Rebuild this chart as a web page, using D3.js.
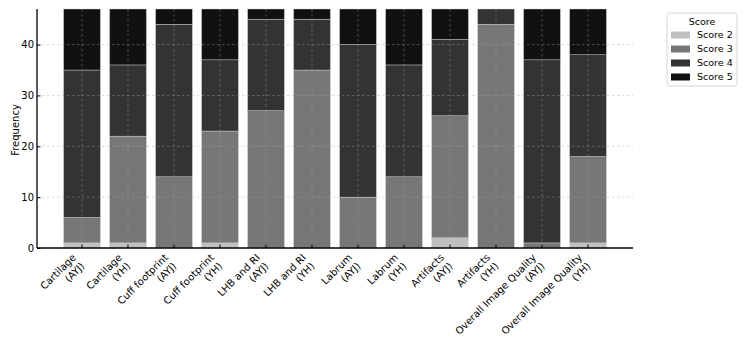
<!DOCTYPE html>
<html>
<head>
<meta charset="utf-8">
<script src="https://cdn.jsdelivr.net/npm/d3@7"></script>
<style>
  body { margin: 0; background: #fff; }
  text { font-family: "DejaVu Sans", sans-serif; }
</style>
</head>
<body>
<script>
// categories (two-line labels) and score counts per bar
const categories = [
  "Cartilage\n(AYJ)", "Cartilage\n(YH)",
  "Cuff footprint\n(AYJ)", "Cuff footprint\n(YH)",
  "LHB and RI\n(AYJ)", "LHB and RI\n(YH)",
  "Labrum\n(AYJ)", "Labrum\n(YH)",
  "Artifacts\n(AYJ)", "Artifacts\n(YH)",
  "Overall Image Quality\n(AYJ)", "Overall Image Quality\n(YH)"
]
const score2 = [1, 1, 0, 1, 0, 0, 0, 0, 2, 0, 0, 1]
const score3 = [5, 21, 14, 22, 27, 35, 10, 14, 24, 44, 1, 17]
const score4 = [29, 14, 30, 14, 18, 10, 30, 22, 15, 3, 36, 20]
const score5 = [12, 11, 3, 10, 2, 2, 7, 11, 6, 0, 10, 9]
const seriesNames = ["Score 2", "Score 3", "Score 4", "Score 5"]
const yTicks = [0, 10, 20, 30, 40]

const colors = ["#c0c0c0", "#777777", "#333333", "#111111"]

// table for d3.stack
const rows = categories.map((c, i) => ({
  cat: c,
  "Score 2": score2[i],
  "Score 3": score3[i],
  "Score 4": score4[i],
  "Score 5": score5[i]
}))

const W = 750, H = 351
const mLeft = 37, mRight = 633, mTop = 9, mBottom = 248

const svg = d3.select("body")
  .append("svg")
  .attr("width", W)
  .attr("height", H)

const x = d3.scaleBand()
  .domain(categories)
  .range([mLeft, mRight])
  .paddingInner(0.2)
  .paddingOuter(0.578)

const y = d3.scaleLinear()
  .domain([0, 47])
  .range([mBottom, mTop])

const stack = d3.stack().keys(seriesNames)
const layers = stack(rows)

// bars
svg.append("g")
  .selectAll("g")
  .data(layers)
  .enter()
  .append("g")
    .attr("fill", (d, i) => colors[i])
  .selectAll("rect")
  .data(d => d)
  .enter()
  .append("rect")
    .attr("x", d => x(d.data.cat))
    .attr("width", x.bandwidth())
    .attr("y", d => y(d[1]))
    .attr("height", d => y(d[0]) - y(d[1]))
    .attr("stroke", "#d8d8d8")
    .attr("stroke-width", 0.4)

// grid on top of the bars
const grid = svg.append("g")
  .attr("stroke", "#a8a8a8")
  .attr("stroke-width", 0.6)
  .attr("stroke-dasharray", "2.5,2.5")
  .attr("opacity", 0.7)

grid.selectAll(".hg")
  .data(yTicks.filter(t => t > 0))
  .enter()
  .append("line")
    .attr("x1", mLeft)
    .attr("x2", mRight)
    .attr("y1", d => y(d))
    .attr("y2", d => y(d))

grid.selectAll(".vg")
  .data(categories)
  .enter()
  .append("line")
    .attr("x1", d => x(d) + x.bandwidth() / 2)
    .attr("x2", d => x(d) + x.bandwidth() / 2)
    .attr("y1", mTop)
    .attr("y2", mBottom)

// y axis (ticks inward)
const yAxis = svg.append("g")
  .attr("transform", `translate(${mLeft},0)`)
  .call(d3.axisLeft(y).tickValues(yTicks).tickSize(-3.5).tickPadding(3))
yAxis.select(".domain").attr("stroke", "#000").attr("stroke-width", 1.3)
  .attr("d", `M0,${mTop}V${mBottom}`)
yAxis.selectAll("text").attr("font-size", "10px").attr("fill", "#000")
  .style("font-family", "DejaVu Sans")

// x axis (ticks inward, labels drawn separately)
const xAxis = svg.append("g")
  .attr("transform", `translate(0,${mBottom})`)
  .call(d3.axisBottom(x).tickSize(-3.5).tickFormat(""))
xAxis.select(".domain").attr("stroke", "#000").attr("stroke-width", 1.3)
  .attr("d", `M${mLeft},0H${mRight}`)

// rotated two-line x labels, right aligned
const labels = svg.append("g")
  .selectAll("g")
  .data(categories)
  .enter()
  .append("g")
    .attr("transform", d => `translate(${x(d) + x.bandwidth() / 2 - 11},252.5) rotate(-45)`)

labels.append("text")
  .attr("text-anchor", "end")
  .attr("font-size", "10px")
  .attr("fill", "#000")
  .selectAll("tspan")
  .data(d => d.split("\n"))
  .enter()
  .append("tspan")
    .attr("x", 0)
    .attr("y", (d, i) => 8 + i * 12)
    .text(d => d)

// y label
svg.append("text")
  .attr("transform", "translate(19,130) rotate(-90)")
  .attr("text-anchor", "middle")
  .attr("font-size", "10px")
  .text("Frequency")

// legend
const legend = svg.append("g")
legend.append("rect")
  .attr("x", 667)
  .attr("y", 13)
  .attr("width", 70)
  .attr("height", 73)
  .attr("rx", 2.5)
  .attr("fill", "#fff")
  .attr("stroke", "#cccccc")
  .attr("stroke-width", 0.8)

legend.append("text")
  .attr("x", 702)
  .attr("y", 24.5)
  .attr("text-anchor", "middle")
  .attr("font-size", "9.5px")
  .text("Score")

const items = legend.selectAll(".item")
  .data(seriesNames)
  .enter()
  .append("g")
    .attr("transform", (d, i) => `translate(0,${35 + i * 14})`)

items.append("rect")
  .attr("x", 671)
  .attr("y", -3.5)
  .attr("width", 19)
  .attr("height", 7)
  .attr("fill", (d, i) => colors[i])

items.append("text")
  .attr("x", 697)
  .attr("y", 0)
  .attr("dy", "0.35em")
  .attr("font-size", "9.5px")
  .text(d => d)
</script>
</body>
</html>
